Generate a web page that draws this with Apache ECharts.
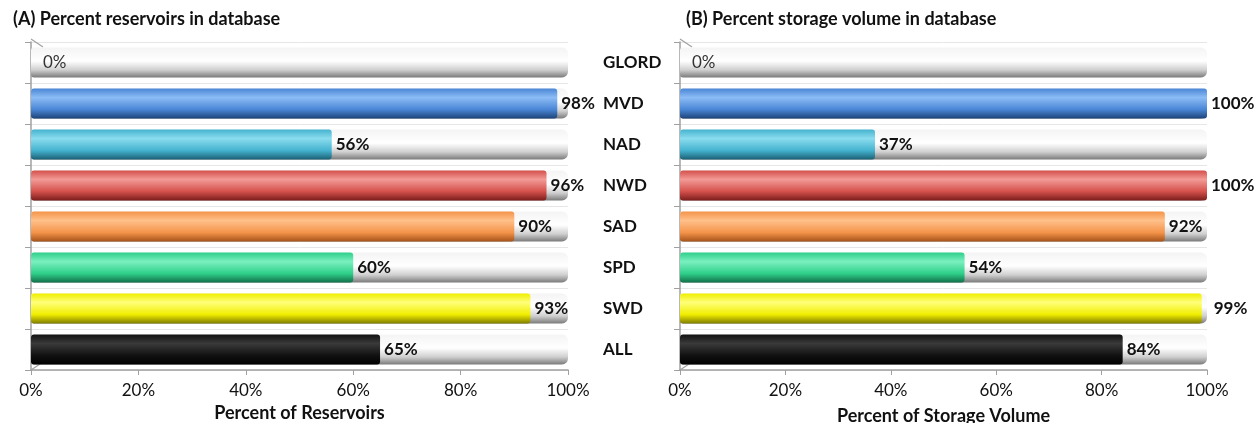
<!DOCTYPE html>
<html>
<head>
<meta charset="utf-8">
<script src="https://cdn.jsdelivr.net/npm/echarts@6/dist/echarts.min.js"></script>
<style>
  html, body { margin: 0; padding: 0; background: #fff; }
  #chart { width: 1254px; height: 423px; }
</style>
</head>
<body>
<div id="chart"></div>
<script>
// Districts shown on both panels (top to bottom)
const categories = ['GLORD', 'MVD', 'NAD', 'NWD', 'SAD', 'SPD', 'SWD', 'ALL'];
// Panel A: percent of reservoirs present in the database
const pctReservoirs = [0, 98, 56, 96, 90, 60, 93, 65];
// Panel B: percent of storage volume present in the database
const pctStorage = [0, 100, 37, 100, 92, 54, 99, 84];
const xTicks = [0, 20, 40, 60, 80, 100];

// Cylinder shading per district: [light, mid, dark]
const shades = [
  ['#e8e8e8', '#bdbdbd', '#6e6e6e'],
  ['#8cbcf5', '#4a86d6', '#1d4378'],
  ['#8adcee', '#45b3cf', '#1b6074'],
  ['#f39a96', '#d4504b', '#7a1d1b'],
  ['#ffc08a', '#f4944a', '#a6531a'],
  ['#7af0bf', '#2fcf8a', '#12704a'],
  ['#ffff7a', '#f0ee00', '#807c00'],
  ['#3a3a3a', '#111111', '#000000']
];

function cyl(s) {
  return new echarts.graphic.LinearGradient(0, 0, 0, 1, [
    { offset: 0, color: s[1] },
    { offset: 0.3, color: s[0] },
    { offset: 0.7, color: s[1] },
    { offset: 1, color: s[2] }
  ]);
}
const trackFill = new echarts.graphic.LinearGradient(0, 0, 0, 1, [
  { offset: 0, color: '#f4f4f4' },
  { offset: 0.45, color: '#ffffff' },
  { offset: 0.75, color: '#cfcfcf' },
  { offset: 1, color: '#7a7a7a' }
]);

const FONT = 'Lato';
const AXIS_GREY = '#a0a0a0';

function barData(values) {
  return values.map((v, i) => {
    const item = {
      value: v,
      itemStyle: { color: cyl(shades[i]) }
    };
    if (v === 0) {
      item.label = { fontWeight: 'normal', color: '#333', distance: 12 };
    } else if (v === 99) {
      item.label = { distance: 12 };
    }
    return item;
  });
}

const grids = [
  { left: 31, width: 537, top: 42, height: 328, outerBoundsMode: 'none', containLabel: false },
  { left: 680, width: 527, top: 42, height: 328, outerBoundsMode: 'none', containLabel: false }
];

function xAxis(idx, name, gap) {
  return {
    gridIndex: idx, type: 'value', min: 0, max: 100, interval: 20,
    name: name, nameLocation: 'middle', nameGap: gap,
    nameTextStyle: { fontFamily: FONT, fontWeight: 'bold', fontSize: 18, color: '#111' },
    axisLine: { show: true, lineStyle: { color: AXIS_GREY, width: 1.5 } },
    axisTick: { show: true, length: 5, lineStyle: { color: AXIS_GREY } },
    axisLabel: { fontFamily: FONT, fontSize: 17, color: '#111', margin: 12,
                 formatter: v => v + '%' },
    splitLine: { show: false }
  };
}
function yAxis(idx, showLabels) {
  return {
    gridIndex: idx, type: 'category', data: categories, inverse: true,
    axisLine: { show: true, lineStyle: { color: AXIS_GREY, width: 1.5 } },
    axisTick: { show: true, length: 6, lineStyle: { color: AXIS_GREY } },
    axisLabel: showLabels ? {
      show: true, align: 'left', margin: 77,
      fontFamily: FONT, fontWeight: 'bold', fontSize: 17, color: '#111'
    } : { show: false },
    splitLine: { show: true, lineStyle: { color: '#e6e6e6', width: 1 } }
  };
}

function seriesFor(idx, values) {
  return [
    {
      type: 'bar', xAxisIndex: idx, yAxisIndex: idx,
      data: values.map(() => 100), barWidth: 30, barGap: '-100%',
      silent: true, z: 1,
      itemStyle: { color: trackFill, borderRadius: [3, 6, 6, 3] }
    },
    {
      type: 'bar', xAxisIndex: idx, yAxisIndex: idx,
      data: barData(values), barWidth: 30, z: 2,
      itemStyle: { borderRadius: [3, 3, 3, 3] },
      label: {
        show: true, position: 'right', distance: 4,
        formatter: p => p.value + '%',
        fontFamily: FONT, fontWeight: 'bold', fontSize: 17, color: '#111'
      }
    }
  ];
}

const chart = echarts.init(document.getElementById('chart'), null, { renderer: 'canvas' });
chart.setOption({
  animation: false,
  backgroundColor: '#ffffff',
  title: [
    { text: '(A) Percent reservoirs in database', left: 8, top: 5,
      textStyle: { fontFamily: FONT, fontWeight: 'bold', fontSize: 18, color: '#111' } },
    { text: '(B) Percent storage volume in database', left: 681, top: 5,
      textStyle: { fontFamily: FONT, fontWeight: 'bold', fontSize: 18, color: '#111' } }
  ],
  grid: grids,
  xAxis: [xAxis(0, 'Percent of Reservoirs', 31), xAxis(1, 'Percent of Storage Volume', 37)],
  yAxis: [yAxis(0, false), yAxis(1, true)],
  series: [...seriesFor(0, pctReservoirs), ...seriesFor(1, pctStorage)]
});

// Short slanted strokes at the plot corners, giving the walls a little depth
const corners = [];
[0, 1].forEach(g => {
  const top = chart.convertToPixel({ gridIndex: g }, [0, categories[0]]);
  const bottom = chart.convertToPixel({ gridIndex: g }, [0, categories[categories.length - 1]]);
  const x0 = top[0];
  const yTop = top[1] - 20.5;
  const yBot = bottom[1] + 20.5;
  corners.push(
    { type: 'line', shape: { x1: x0, y1: yTop - 3, x2: x0 + 12, y2: yTop + 5 },
      style: { stroke: AXIS_GREY, lineWidth: 1.2 }, silent: true },
    { type: 'line', shape: { x1: x0, y1: yBot, x2: x0 + 12, y2: yBot - 8 },
      style: { stroke: AXIS_GREY, lineWidth: 1.2 }, silent: true }
  );
});
chart.setOption({ graphic: corners });
</script>
</body>
</html>
